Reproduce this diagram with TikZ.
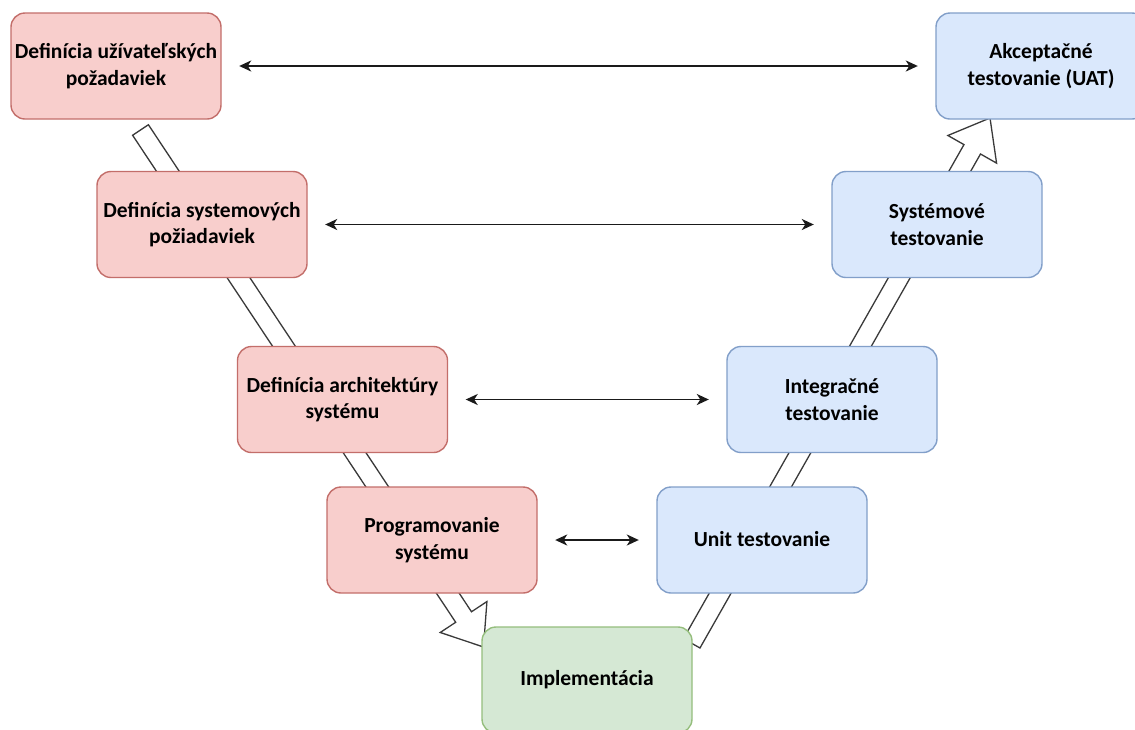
\documentclass[tikz,border=0pt]{standalone}
\usepackage{fontspec}
\setmainfont{Carlito}
\usetikzlibrary{calc,arrows.meta}

\definecolor{redfill}{HTML}{F8CECC}
\definecolor{redline}{HTML}{B85450}
\definecolor{bluefill}{HTML}{DAE8FC}
\definecolor{blueline}{HTML}{6C8EBF}
\definecolor{greenfill}{HTML}{D5E8D4}
\definecolor{greenline}{HTML}{82B366}
\definecolor{linkgray}{HTML}{1A1A1A}
\definecolor{flexgray}{HTML}{3A3A3A}

% hollow "flex" arrow from #1 to the tip #2
\newcommand{\hollowarrow}[2]{%
  \coordinate (ha-h) at ($(#2)!36pt!(#1)$);
  \filldraw[flexarrow]
    ($(#1)!9.5pt!90:(#2)$) -- ($(ha-h)!9.5pt!90:(#2)$) -- ($(ha-h)!28pt!90:(#2)$)
    -- (#2)
    -- ($(ha-h)!28pt!-90:(#2)$) -- ($(ha-h)!9.5pt!-90:(#2)$) -- ($(#1)!9.5pt!-90:(#2)$)
    -- cycle;}

\tikzset{
  stagebox/.style={rectangle, rounded corners=14pt, line width=1.4pt,
    minimum width=210pt, minimum height=106pt, align=center,
    font=\fontsize{21.5}{26.5}\selectfont\bfseries, text=black, inner sep=0pt},
  specbox/.style={stagebox, fill=redfill, draw=redline!85},
  testbox/.style={stagebox, fill=bluefill, draw=blueline!85},
  implbox/.style={stagebox, fill=greenfill, draw=greenline!85},
  flexarrow/.style={fill=white, draw=flexgray, line width=1.3pt, line join=miter},
  pairlink/.style={draw=linkgray, line width=1.8pt,
    {Stealth[length=12pt,width=11pt,inset=3.5pt]}-{Stealth[length=12pt,width=11pt,inset=3.5pt]},
    shorten <=17.5pt, shorten >=17.5pt},
}

\begin{document}
\begin{tikzpicture}[x=1pt, y=-1pt]
  \useasboundingbox (0,0) rectangle (1135,729);
  \fill[white] (0,0) rectangle (1135,729);
  \clip (0,0) rectangle (1135,729);

  % ends of the two hollow arrows of the V
  \coordinate (downstart) at (140.5,130);
  \coordinate (downtip)   at (483.5,647);
  \coordinate (upstart)   at (691.7,643.3);
  \coordinate (uptip)     at (990,118);

  \hollowarrow{downstart}{downtip}
  \hollowarrow{upstart}{uptip}

  % specification side
  \node[specbox] (req)  at (116,66)    {Definícia užívateľských\\požadaviek};
  \node[specbox] (sreq) at (202,224.5) {Definícia systemových\\požiadaviek};
  \node[specbox] (arch) at (342.5,399.5) {Definícia architektúry\\systému};
  \node[specbox] (prog) at (432,540)   {Programovanie\\systému};

  % bottom of the V
  \node[implbox] (impl) at (587,680) {Implementácia};

  % testing side
  \node[testbox] (unit) at (762,540)     {\raisebox{3pt}{Unit testovanie}};
  \node[testbox] (intg) at (832,399.5)   {Integračné\\testovanie};
  \node[testbox] (syst) at (937,224.5)   {Systémové\\testovanie};
  \node[testbox] (uat)  at (1041,66)     {Akceptačné\\testovanie (UAT)};

  % verification links between the levels
  \draw[pairlink] (req.east)  -- (uat.west);
  \draw[pairlink] (sreq.east) -- (syst.west);
  \draw[pairlink] (arch.east) -- (intg.west);
  \draw[pairlink] (prog.east) -- (unit.west);
\end{tikzpicture}
\end{document}
